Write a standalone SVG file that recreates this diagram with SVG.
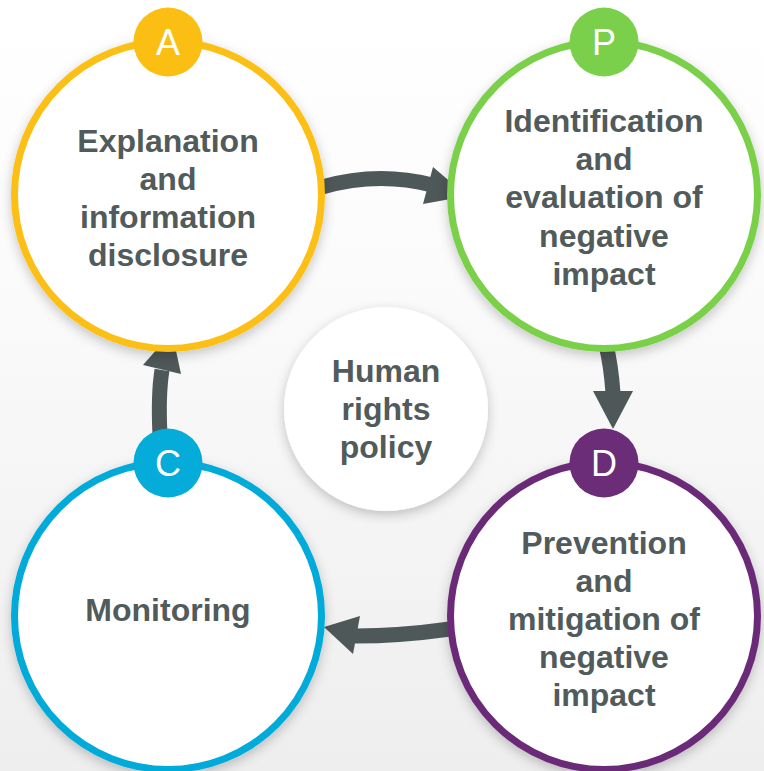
<svg xmlns="http://www.w3.org/2000/svg" width="764" height="771" viewBox="0 0 764 771">
  <defs>
    <linearGradient id="bg" x1="0" y1="0" x2="0" y2="1">
      <stop offset="0" stop-color="#ffffff"/>
      <stop offset="0.35" stop-color="#fbfbfb"/>
      <stop offset="1" stop-color="#eeeeee"/>
    </linearGradient>
    <filter id="sh" x="-20%" y="-20%" width="140%" height="140%">
      <feDropShadow dx="0" dy="4" stdDeviation="6" flood-color="#000" flood-opacity="0.22"/>
    </filter>
    <style>
      .ring { fill: #ffffff; stroke-width: 7; filter: url(#sh); }
      .lbl { font-family: "Liberation Sans", Arial, sans-serif; font-weight: bold; font-size: 32px; fill: #515b5b; text-anchor: middle; }
      .badge-t { font-family: "Liberation Sans", Arial, sans-serif; font-size: 36px; fill: #ffffff; text-anchor: middle; }
      .shaft { fill: none; stroke: #4f5858; stroke-width: 15; }
      .head { fill: #4f5858; }
    </style>
  </defs>
  <rect x="0" y="0" width="764" height="771" fill="url(#bg)"/>

  <g id="center">
    <circle cx="386" cy="409" r="102" fill="#ffffff" filter="url(#sh)"/>
    <text class="lbl" x="386" y="382">Human</text>
    <text class="lbl" x="386" y="420">rights</text>
    <text class="lbl" x="386" y="458">policy</text>
  </g>

  <g id="connectors">
    <path class="shaft" d="M322,187 Q378,171 432,185"/>
    <polygon class="head" points="433,167 467,196 423,204"/>
    <path class="shaft" d="M606,345 Q611,365 613,393"/>
    <polygon class="head" points="593,391 633,391 613,429"/>
    <path class="shaft" d="M450,629 Q400,636 355,636"/>
    <polygon class="head" points="360,616 324,627 353,654"/>
    <path class="shaft" d="M160,435 Q158,395 162,370"/>
    <polygon class="head" points="143,365 181,374 172,332"/>
  </g>

  <g id="node-A">
    <circle class="ring" cx="168" cy="195" r="153.5" stroke="#fbbf13"/>
    <circle cx="168" cy="42" r="34.5" fill="#fbbf13"/>
    <text class="badge-t" x="168" y="55">A</text>
    <text class="lbl" x="168" y="152">Explanation</text>
    <text class="lbl" x="168" y="190">and</text>
    <text class="lbl" x="168" y="228">information</text>
    <text class="lbl" x="168" y="266">disclosure</text>
  </g>

  <g id="node-P">
    <circle class="ring" cx="604" cy="195" r="153.5" stroke="#7ad04a"/>
    <circle cx="604" cy="42" r="34.5" fill="#7ad04a"/>
    <text class="badge-t" x="604" y="55">P</text>
    <text class="lbl" x="604" y="132">Identification</text>
    <text class="lbl" x="604" y="170">and</text>
    <text class="lbl" x="604" y="208">evaluation of</text>
    <text class="lbl" x="604" y="247">negative</text>
    <text class="lbl" x="604" y="285">impact</text>
  </g>

  <g id="node-C">
    <circle class="ring" cx="168" cy="616" r="153.5" stroke="#05abd9"/>
    <circle cx="168" cy="463" r="34.5" fill="#05abd9"/>
    <text class="badge-t" x="168" y="476">C</text>
    <text class="lbl" x="168" y="621">Monitoring</text>
  </g>

  <g id="node-D">
    <circle class="ring" cx="604" cy="616" r="153.5" stroke="#6b2c78"/>
    <circle cx="604" cy="463" r="34.5" fill="#6b2c78"/>
    <text class="badge-t" x="604" y="476">D</text>
    <text class="lbl" x="604" y="554">Prevention</text>
    <text class="lbl" x="604" y="592">and</text>
    <text class="lbl" x="604" y="630">mitigation of</text>
    <text class="lbl" x="604" y="668">negative</text>
    <text class="lbl" x="604" y="706">impact</text>
  </g>
</svg>
